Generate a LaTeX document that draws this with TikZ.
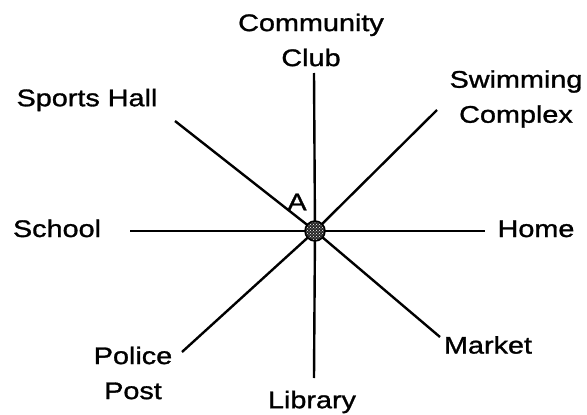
\documentclass[tikz,border=0pt]{standalone}
\usepackage{fontspec}
\setmainfont{Liberation Sans}[FakeStretch=1.2, FakeBold=1.2]
\usetikzlibrary{patterns}

\begin{document}
\begin{tikzpicture}[x=1pt, y=-1pt,
    place/.style={font=\fontsize{24}{35}\selectfont, align=center, inner sep=0pt},
    spoke/.style={line width=2.4pt},
    junction/.style={circle, draw, line width=1.5pt, minimum size=20pt, inner sep=0pt,
        preaction={fill=black!85}, pattern=crosshatch dots, pattern color=white}]
    \useasboundingbox (0,0) rectangle (587,415);
    % ends of the eight roads
    \coordinate (O) at (315,231);
    \coordinate (n) at (314,73);
    \coordinate (s) at (314,378);
    \coordinate (w) at (130,231);
    \coordinate (e) at (485,231);
    \coordinate (ne) at (437,110);
    \coordinate (nw) at (175,121);
    \coordinate (sw) at (182,352);
    \coordinate (se) at (440,337);
    \foreach \d in {n,s,w,e,ne,nw,sw,se}
        \draw[spoke] (O) -- (\d);
    \node[junction] (A) at (O) {};
    \node[place] (labA) at (297,202) {A};
    % places
    \node[place] (club) at (311,40) {Community\\Club};
    \node[place] (pool) at (516,99) {Swimming\\Complex};
    \node[place] (hall) at (87,100) {Sports Hall};
    \node[place, anchor=base] (school) at (57,237) {School};
    \node[place, anchor=base] (home) at (536,237) {Home};
    \node[place] (police) at (133,373) {Police\\Post};
    \node[place] (library) at (312,402) {Library};
    \node[place] (market) at (488,345) {Market};
\end{tikzpicture}
\end{document}
